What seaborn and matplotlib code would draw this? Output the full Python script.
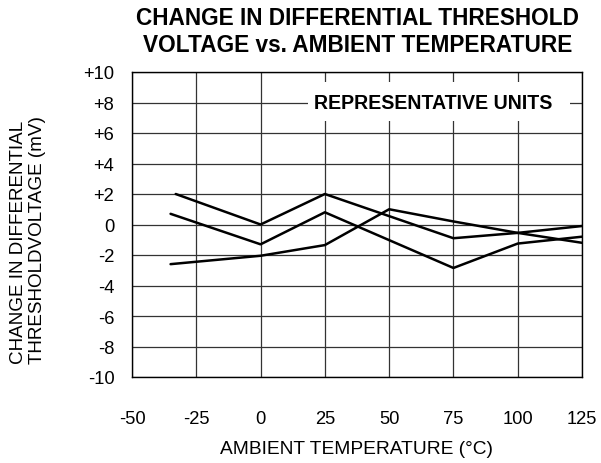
import pandas as pd
import seaborn as sns
import matplotlib.pyplot as plt
from matplotlib.patches import Rectangle

# readings taken off the reference curves (mV change vs. ambient temp in degC)
temps_a = [-33, 0, 25, 75, 100, 125]
unit_a = [2.0, 0.0, 2.0, -0.9, -0.55, -0.1]

temps_b = [-35, 0, 25, 75, 100, 125]
unit_b = [0.7, -1.3, 0.8, -2.85, -1.25, -0.8]

temps_c = [-35, 0, 25, 50, 75, 100, 125]
unit_c = [-2.6, -2.05, -1.35, 1.0, 0.2, -0.55, -1.2]

x_ticks = [-50, -25, 0, 25, 50, 75, 100, 125]
y_ticks = [10, 8, 6, 4, 2, 0, -2, -4, -6, -8, -10]
y_tick_labels = ['+10', '+8', '+6', '+4', '+2', '0', '-2', '-4', '-6', '-8', '-10']

sns.set_style('white')
plt.rcParams['font.family'] = ['Liberation Sans', 'DejaVu Sans']
plt.rcParams['axes.unicode_minus'] = False
plt.rcParams['text.color'] = 'black'
plt.rcParams['axes.labelcolor'] = 'black'

fig = plt.figure(figsize=(6.01, 4.64), dpi=100)
ax = fig.add_axes([132 / 601, 1 - 378 / 464, 450 / 601, 305 / 464])

for temps, vals in [(temps_a, unit_a), (temps_b, unit_b), (temps_c, unit_c)]:
    df = pd.DataFrame({'temp': temps, 'dv': vals})
    sns.lineplot(data=df, x='temp', y='dv', color='black', linewidth=1.8,
                 sort=False, ax=ax, zorder=3)

ax.set_xlim(-50, 125)
ax.set_ylim(-10, 10)
ax.set_xticks(x_ticks)
ax.set_yticks(y_ticks)
ax.set_yticklabels(y_tick_labels)
ax.tick_params(length=0, labelsize=13.2, colors='black')
ax.tick_params(axis='x', pad=23.8)
ax.tick_params(axis='y', pad=12.7)
ax.grid(True, color='#333333', linewidth=0.9)
ax.set_axisbelow(True)
for s in ax.spines.values():
    s.set_color('black')
    s.set_linewidth(1.0)

ax.set_xlabel('AMBIENT TEMPERATURE (\u00b0C)', fontsize=13.8, labelpad=9.4)
ax.set_ylabel('')

fig.text(28 / 601, 1 - 240 / 464, 'CHANGE IN DIFFERENTIAL\nTHRESHOLDVOLTAGE (mV)',
         rotation=90, ha='center', va='center', multialignment='left',
         fontsize=13.6)

# white patch behind the in-plot label, hides the grid there
ax.add_patch(Rectangle((18.4, 6.8), 101.9, 2.55, facecolor='white',
                       edgecolor='none', zorder=2))
ax.text(67.25, 8, 'REPRESENTATIVE UNITS', ha='center', va='center',
        fontsize=14.1, fontweight='bold', zorder=4)

fig.text(358 / 601, 1 - 7 / 464,
         'CHANGE IN DIFFERENTIAL THRESHOLD\nVOLTAGE vs. AMBIENT TEMPERATURE',
         ha='center', va='top', fontsize=16.3, fontweight='bold', linespacing=1.2)

fig.savefig('out.png', dpi=100)
